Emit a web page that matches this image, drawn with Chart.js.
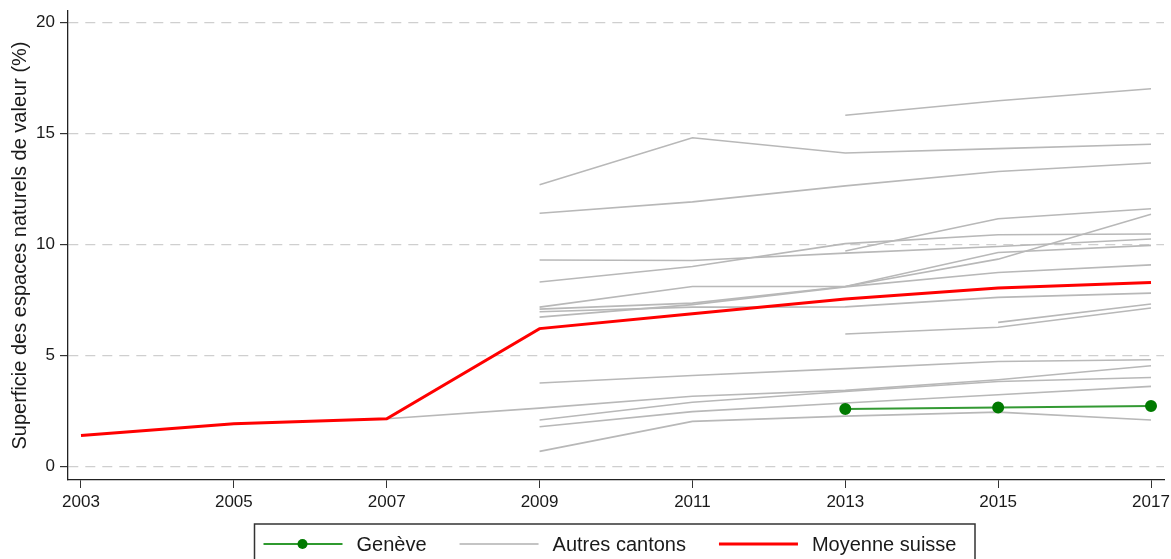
<!DOCTYPE html>
<html>
<head>
<meta charset="utf-8">
<script src="https://cdn.jsdelivr.net/npm/chart.js@4.4.1/dist/chart.umd.min.js"></script>
<style>
  body { margin: 0; background: #fff; }
  #wrap { width: 1171px; height: 559px; position: relative; }
</style>
</head>
<body>
<div id="wrap"><canvas id="chart"></canvas></div>
<script>
/* ================= DATA ================= */

const years = [2003, 2005, 2007, 2009, 2011, 2013, 2015, 2017];
const yTicks = [0, 5, 10, 15, 20];

const geneve = [null, null, null, null, null, 2.60, 2.67, 2.73];
const moyenneSuisse = [1.40, 1.93, 2.16, 6.22, 6.89, 7.55, 8.05, 8.30];

const autresCantons = [
  [null, null, null, null, null, 15.83, 16.49, 17.03],
  [null, null, null, 12.70, 14.82, 14.13, 14.33, 14.53],
  [null, null, null, 11.42, 11.93, 12.65, 13.30, 13.68],
  [null, null, null, null, null, 9.72, 11.17, 11.62],
  [null, null, null, 8.32, 9.02, 10.05, 10.45, 10.48],
  [null, null, null, 9.31, 9.29, 9.62, 9.92, 10.26],
  [null, null, null, 7.19, 8.12, 8.12, 9.65, 9.97],
  [null, null, null, 7.10, 7.37, 8.12, 9.35, 11.37],
  [null, null, null, 6.74, 7.30, 8.10, 8.75, 9.09],
  [null, null, null, 6.98, 7.19, 7.20, 7.63, 7.82],
  [null, null, null, null, null, 5.98, 6.28, 7.15],
  [null, null, null, null, null, null, 6.50, 7.33],
  [null, null, null, 3.77, 4.11, 4.42, 4.74, 4.82],
  [null, null, 2.16, 2.64, 3.17, 3.44, 3.92, 4.55],
  [null, null, null, 2.10, 2.90, 3.39, 3.84, 4.02],
  [null, null, null, 1.80, 2.48, 2.87, 3.24, 3.62],
  [null, null, null, 0.69, 2.04, 2.28, 2.46, 2.10]
];

const legendLabels = ["Genève", "Autres cantons", "Moyenne suisse"];
const legendColors = ["#2f9a2f", "#c4c4c4", "#ff0000"];

/* ================= STYLE ================= */

const FONT = "'Liberation Sans', Arial, sans-serif";
const TEXT = "#1a1a1a";

/* ================= LEGEND (boxed, below the axis) ================= */

const boxedLegend = {
  id: "boxedLegend",
  afterDraw(chart) {
    const ctx = chart.ctx;
    const left = 254.5, top = 524, right = 975;
    const cy = 544;
    ctx.save();
    ctx.strokeStyle = "#333";
    ctx.lineWidth = 1.5;
    ctx.strokeRect(left, top, right - left, 60);

    ctx.font = "20px " + FONT;
    ctx.textBaseline = "middle";
    ctx.fillStyle = TEXT;

    let x = left + 9;
    legendLabels.forEach((label, i) => {
      ctx.strokeStyle = legendColors[i];
      ctx.lineWidth = i === 2 ? 3 : 2;
      ctx.beginPath();
      ctx.moveTo(x, cy);
      ctx.lineTo(x + 79, cy);
      ctx.stroke();
      if (i === 0) {
        ctx.fillStyle = "#007a00";
        ctx.beginPath();
        ctx.arc(x + 39, cy, 5, 0, Math.PI * 2);
        ctx.fill();
        ctx.fillStyle = TEXT;
      }
      x += 79 + 14;
      ctx.fillText(label, x, cy + 1);
      x += ctx.measureText(label).width + 33;
    });
    ctx.restore();
  }
};

/* ================= DATASETS ================= */

const datasets = [
  {
    label: "Genève",
    data: geneve,
    borderColor: "#339933",
    borderWidth: 2,
    pointRadius: 5,
    pointBackgroundColor: "#007a00",
    pointBorderColor: "#007a00"
  },
  {
    label: "Moyenne suisse",
    data: moyenneSuisse,
    borderColor: "#ff0000",
    borderWidth: 3,
    pointRadius: 0
  }
];

autresCantons.forEach((serie, i) => {
  datasets.push({
    label: "Autres cantons " + (i + 1),
    data: serie,
    borderColor: "#b8b8b8",
    borderWidth: 1.6,
    pointRadius: 0
  });
});

/* ================= CHART ================= */

new Chart(document.getElementById("chart"), {
  type: "line",
  data: { labels: years, datasets: datasets },
  plugins: [boxedLegend],
  options: {
    responsive: true,
    maintainAspectRatio: false,
    animation: false,
    layout: { padding: { top: 11, right: 6, left: 0, bottom: 0 } },
    elements: { line: { tension: 0 } },
    plugins: {
      legend: { display: false },
      tooltip: { enabled: false }
    },
    scales: {
      x: {
        type: "linear",
        min: 2002.83,
        max: 2017.17,
        afterBuildTicks: s => { s.ticks = years.map(v => ({ value: v })); },
        afterFit: s => {
          s.height = 79;
          s.paddingLeft = 0;
          s.paddingRight = 0;
        },
        grid: {
          drawOnChartArea: false,
          drawTicks: true,
          tickLength: 8,
          tickColor: "#333"
        },
        border: { color: "#222", width: 1.3 },
        ticks: {
          padding: 4,
          color: TEXT,
          font: { family: FONT, size: 17 },
          callback: v => String(v)
        }
      },
      y: {
        min: -0.6,
        max: 20.53,
        afterBuildTicks: s => { s.ticks = yTicks.map(v => ({ value: v })); },
        afterFit: s => {
          s.width = 68;
          s.paddingTop = 0;
          s.paddingBottom = 0;
        },
        grid: {
          color: "#cfcfcf",
          lineWidth: 1.2,
          tickLength: 8,
          tickColor: "#333",
          tickBorderDash: []
        },
        border: { color: "#222", width: 1.3, dash: [10, 7] },
        ticks: {
          padding: 5,
          color: TEXT,
          font: { family: FONT, size: 17 },
          callback: v => String(v)
        },
        title: {
          display: true,
          text: "Superficie des espaces naturels de valeur (%)",
          color: TEXT,
          font: { family: FONT, size: 20 },
          padding: { top: 8, bottom: 0 }
        }
      }
    }
  }
});
</script>
</body>
</html>
